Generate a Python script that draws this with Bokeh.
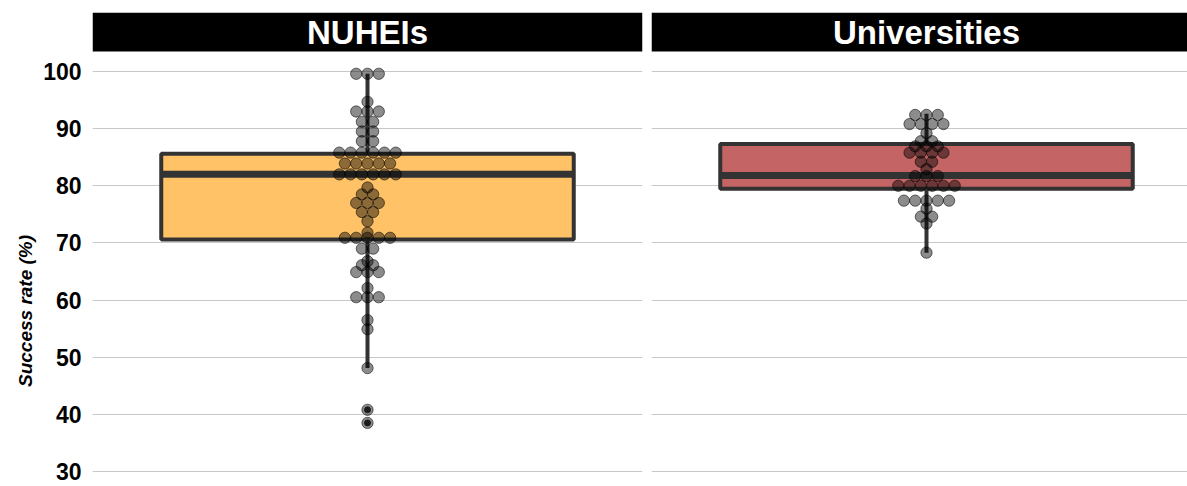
import math
from bokeh.plotting import figure
from bokeh.layouts import row
from bokeh.models import Range1d, FixedTicker, Grid
from bokeh.core.properties import value
from bokeh.embed import file_html
from bokeh.resources import INLINE

# ---------------- data ----------------
groups = ["NUHEIs", "Universities"]

# dot-plot rows: value of each stacked row and number of dots in it
nuheis_values = [99.6, 94.7, 93.0, 91.2, 89.5, 87.8, 85.8, 83.9, 82.0, 79.7, 78.5,
                 77.0, 75.4, 73.8, 71.8, 70.9, 69.0, 66.8, 66.1, 64.9, 62.1, 60.5,
                 56.5, 54.9, 48.1, 40.8, 38.5]
nuheis_counts = [3, 1, 3, 2, 2, 2, 6, 5, 6, 1, 2,
                 3, 2, 1, 1, 5, 2, 1, 2, 3, 1, 3,
                 1, 1, 1, 1, 1]
univ_values = [92.4, 90.8, 89.2, 87.8, 86.9, 85.8, 84.2, 82.9, 81.7, 80.0,
               77.4, 76.0, 74.6, 73.4, 68.3]
univ_counts = [3, 4, 1, 2, 3, 4, 2, 1, 3, 6, 5, 1, 2, 1, 1]

# box-plot statistics
q1 = [70.6, 79.5]
median = [82.0, 81.8]
q3 = [85.6, 87.3]
whisker_low = [48.1, 68.3]
whisker_high = [99.6, 92.6]
outliers = [[40.8, 38.5], []]

y_ticks = [30, 40, 50, 60, 70, 80, 90, 100]
y_title = "Success rate (%)"
box_fills = ["#FFC266", "#C46464"]

# ---------------- layout constants ----------------
FONT = "Liberation Sans"
PX_PER_X = 550 / 1.2
FIG_H = 486
TOP = 12                       # frame top (px)
Y_AT_100 = 71                  # px position of the 100 gridline
Y_AT_30 = 471                  # px position of the 30 gridline
PX_PER_Y = (Y_AT_30 - Y_AT_100) / 70.0
Y1 = 100 + (Y_AT_100 - TOP) / PX_PER_Y
Y0 = 100 - (FIG_H - Y_AT_100) / PX_PER_Y
HEADER_Y0 = 100 + (Y_AT_100 - 51) / PX_PER_Y
DOT_PX = 11.3
BOX_HALF = 0.45


def stack(values, counts):
    spacing = DOT_PX / PX_PER_X
    xs, ys = [], []
    for v, n in zip(values, counts):
        for i in range(n):
            xs.append(1 + (i - (n - 1) / 2) * spacing)
            ys.append(v)
    return xs, ys


dot_sets = [stack(nuheis_values, nuheis_counts), stack(univ_values, univ_counts)]


def make_panel(i, frame_w, left_border, right_border, with_axis):
    xr = Range1d(0.4, 0.4 + frame_w / PX_PER_X)
    p = figure(width=left_border + frame_w + right_border, height=FIG_H,
               x_range=xr, y_range=Range1d(Y0, Y1),
               output_backend="svg", toolbar_location=None,
               x_axis_location=None,
               y_axis_location="left" if with_axis else None,
               min_border_left=left_border, min_border_right=right_border,
               min_border_top=TOP, min_border_bottom=0)
    p.outline_line_color = None
    p.background_fill_color = "white"
    p.border_fill_color = "white"
    for g in p.grid:
        g.visible = False
    p.add_layout(Grid(dimension=1, ticker=FixedTicker(ticks=y_ticks),
                      grid_line_color="#C8C8C8", grid_line_width=1))

    if with_axis:
        ax = p.yaxis[0]
        ax.ticker = FixedTicker(ticks=y_ticks)
        ax.axis_line_color = None
        ax.major_tick_line_color = None
        ax.minor_tick_line_color = None
        ax.major_label_text_font = FONT
        ax.major_label_text_font_style = "bold"
        ax.major_label_text_font_size = "23px"
        ax.major_label_text_color = "black"
        ax.major_label_standoff = 5

    # facet header
    p.quad(left=[xr.start], right=[xr.end], bottom=[HEADER_Y0], top=[Y1],
           fill_color="black", line_color=None)
    p.text(x=[1], y=[(HEADER_Y0 + Y1) / 2], text=[groups[i]],
           text_font=value(FONT), text_font_style="bold", text_font_size="33px",
           text_color="white", text_align="center", text_baseline="middle")

    # box plot
    p.segment(x0=[1, 1], x1=[1, 1], y0=[q3[i], q1[i]], y1=[whisker_high[i], whisker_low[i]],
              line_color="#333333", line_width=4)
    p.quad(left=[1 - BOX_HALF], right=[1 + BOX_HALF], bottom=[q1[i]], top=[q3[i]],
           fill_color=box_fills[i], line_color="#333333", line_width=4)
    p.segment(x0=[1 - BOX_HALF], x1=[1 + BOX_HALF], y0=[median[i]], y1=[median[i]],
              line_color="#333333", line_width=7)
    if outliers[i]:
        p.scatter(x=[1] * len(outliers[i]), y=outliers[i], size=6,
                  fill_color="#333333", line_color="#333333")

    # dots
    xs, ys = dot_sets[i]
    p.scatter(x=xs, y=ys, size=DOT_PX, fill_color="black", fill_alpha=0.45,
              line_color="black", line_alpha=0.55, line_width=1)
    return p


# y-axis title strip (pixel coordinates)
YLAB_W = 40
pt = figure(width=YLAB_W, height=FIG_H, x_range=Range1d(0, YLAB_W), y_range=Range1d(0, FIG_H),
            output_backend="svg", toolbar_location=None,
            x_axis_location=None, y_axis_location=None,
            min_border_left=0, min_border_right=0, min_border_top=0, min_border_bottom=0)
pt.outline_line_color = None
for g in pt.grid:
    g.visible = False
pt.text(x=[25], y=[FIG_H - 306], text=[y_title], angle=math.pi / 2,
        text_font=value(FONT), text_font_style="bold italic", text_font_size="19px",
        text_color="black", text_align="center", text_baseline="middle")

p1 = make_panel(0, 550, 92 - YLAB_W, 5, True)
p2 = make_panel(1, 1187 - 651, 4, 0, False)

layout = row(pt, p1, p2, spacing=0)
open("out.html", "w").write(file_html(layout, INLINE))
